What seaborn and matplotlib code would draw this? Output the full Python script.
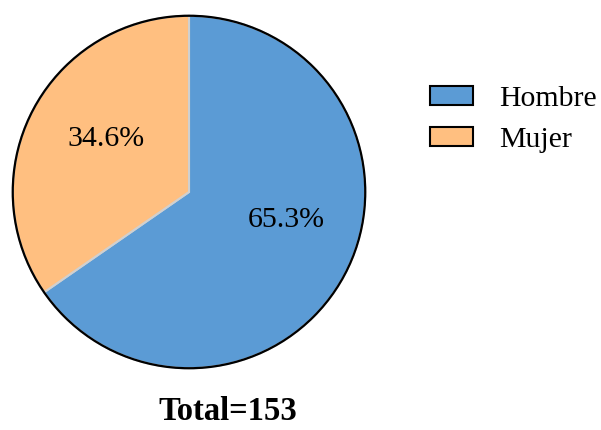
import matplotlib
matplotlib.use("Agg")
import matplotlib.pyplot as plt
import seaborn as sns
from matplotlib.patches import Circle

categories = ["Hombre", "Mujer"]
values = [65.3, 34.6]
total_label = "Total=153"
colors = sns.color_palette(["#5B9BD5", "#FFBF80"])

sns.set_theme(style="white")
plt.rcParams["font.family"] = ["Liberation Serif", "DejaVu Serif"]
plt.rcParams["text.color"] = "black"

fig = plt.figure(figsize=(6.01, 4.30), dpi=100)
ax = fig.add_axes([11/601, 1 - 370/430, 356/601, 356/430])

wedges, texts, autotexts = ax.pie(
    values, colors=colors, startangle=90, counterclock=False,
    autopct=lambda p: "", pctdistance=0.57,
    wedgeprops=dict(edgecolor="#D0D0D0", linewidth=1.5),
)
for at, v, pos in zip(autotexts, values, [(0.55, -0.157), (-0.472, 0.303)]):
    at.set_text(f"{v:.1f}%")
    at.set_position(pos)
    at.set_fontsize(21.5)
    at.set_color("black")
    at.set_ha("center")
    at.set_va("center")

ax.add_patch(Circle((0, 0), 1.0, fill=False, edgecolor="black", linewidth=1.6, zorder=5))
ax.set_xlim(-1.01, 1.01)
ax.set_ylim(-1.01, 1.01)
ax.set_aspect("equal")
ax.axis("off")

leg = fig.legend(wedges, categories, loc="upper left",
                 bbox_to_anchor=(430/601, 1 - 86/430),
                 frameon=False, fontsize=21.5, borderpad=0, borderaxespad=0,
                 handlelength=1.45, handleheight=0.58, handletextpad=0.85,
                 labelspacing=0.5)
for p in leg.get_patches():
    p.set_edgecolor("black")
    p.set_linewidth(1.5)
for t in leg.get_texts():
    t.set_color("black")

fig.text(228/601, 1 - 412/430, total_label, ha="center", va="center",
         fontsize=23.5, fontweight="bold", color="black")

fig.savefig("out.png", dpi=100)
